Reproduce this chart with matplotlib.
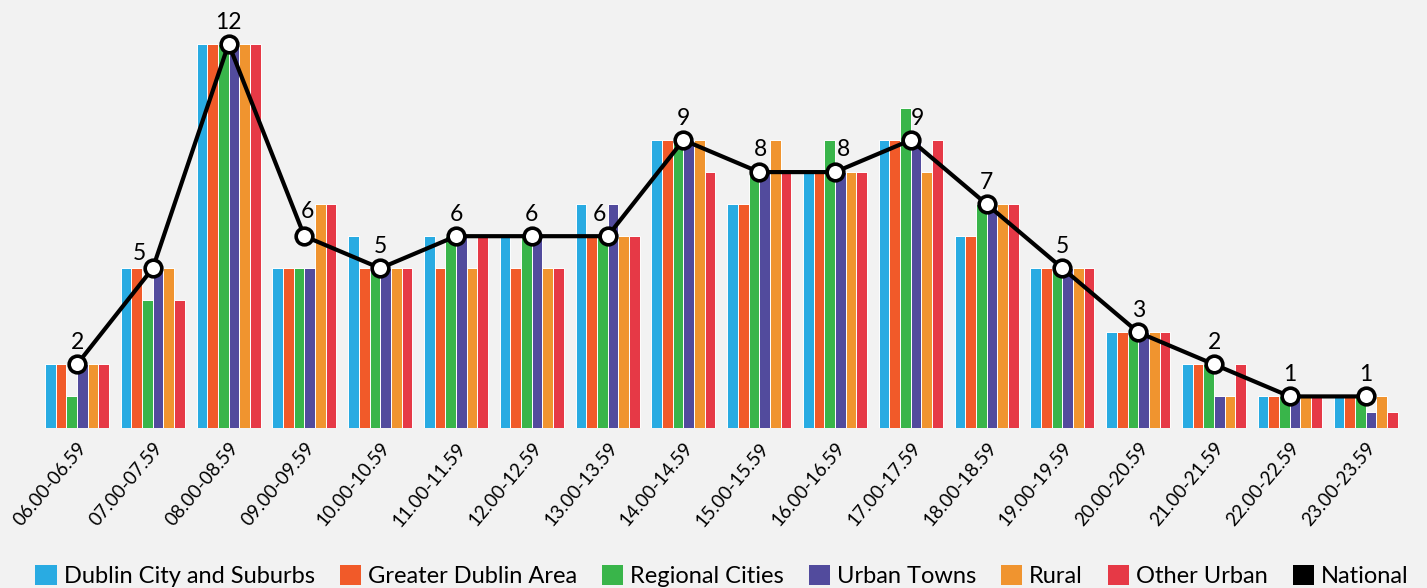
import matplotlib
matplotlib.use("Agg")
from matplotlib import pyplot as plt
from matplotlib.patches import Patch
import numpy as np

# time bands
time_bands = [
    '06.00-06.59', '07.00-07.59', '08.00-08.59', '09.00-09.59', '10.00-10.59',
    '11.00-11.59', '12.00-12.59', '13.00-13.59', '14.00-14.59', '15.00-15.59',
    '16.00-16.59', '17.00-17.59', '18.00-18.59', '19.00-19.59', '20.00-20.59',
    '21.00-21.59', '22.00-22.59', '23.00-23.59',
]

dublin_city = [2, 5, 12, 5, 6, 6, 6, 7, 9, 7, 8, 9, 6, 5, 3, 2, 1, 1]
greater_dublin = [2, 5, 12, 5, 5, 5, 5, 6, 9, 7, 8, 9, 6, 5, 3, 2, 1, 1]
regional_cities = [1, 4, 12, 5, 5, 6, 6, 6, 9, 8, 9, 10, 7, 5, 3, 2, 1, 1]
urban_towns = [2, 5, 12, 5, 5, 6, 6, 7, 9, 8, 8, 9, 7, 5, 3, 1, 1, 0.5]
rural = [2, 5, 12, 7, 5, 5, 5, 6, 9, 9, 8, 8, 7, 5, 3, 1, 1, 1]
other_urban = [2, 4, 12, 7, 5, 6, 5, 6, 8, 8, 8, 9, 7, 5, 3, 2, 1, 0.5]
national = [2, 5, 12, 6, 5, 6, 6, 6, 9, 8, 8, 9, 7, 5, 3, 2, 1, 1]

series_names = ['Dublin City and Suburbs', 'Greater Dublin Area', 'Regional Cities',
                'Urban Towns', 'Rural', 'Other Urban']
series_values = [dublin_city, greater_dublin, regional_cities, urban_towns, rural, other_urban]
colors = ['#29abe2', '#f15a29', '#39b54a', '#524b9d', '#f0942f', '#e63946']

# small nudges (points) of the value labels so they sit clear of the line
label_dx = [0, -10, 0, 2, 0, 0, 0, -6, 0, 1, 6, 5, 0, 0, 0, 0, 0, 0]
label_dy = [0, -5, 0, 2, 0, 0, 0, 0, 0, 1, 1, 0, 0, 0, 0, 0, 0, 0]

bg = '#f2f2f2'
plt.rcParams['font.family'] = ['Lato', 'DejaVu Sans']

fig = plt.figure(figsize=(14.27, 5.88), dpi=100, facecolor=bg)
ax = fig.add_axes([0, 0.2713, 1, 0.7287])
ax.set_facecolor(bg)

x = np.arange(len(time_bands))
bar_w = 0.1407
for i, (name, vals) in enumerate(zip(series_names, series_values)):
    ax.bar(x + (i - 2.5) * bar_w, vals, width=bar_w, color=colors[i],
           edgecolor='white', linewidth=0.7, zorder=2)

ax.plot(x, national, color='black', lw=3, zorder=3,
        marker='o', markersize=12, markerfacecolor='white',
        markeredgecolor='black', markeredgewidth=2.6)

# value labels above the national line
for xi, v, dx, dy in zip(x, national, label_dx, label_dy):
    ax.annotate(f'{v}', (xi, v), xytext=(dx, 8 + dy), textcoords='offset points',
                ha='center', va='bottom', fontsize=16.5, color='black', zorder=4)

ax.set_xlim(-1.016, 17.81)
ax.set_ylim(0, 13.37)
for s in ax.spines.values():
    s.set_visible(False)
ax.set_yticks([])
ax.set_xticks(x)
ax.set_xticklabels(time_bands, rotation=50, ha='right', rotation_mode='anchor',
                   fontsize=13.5, color='black')
ax.tick_params(axis='x', length=0, pad=8)

handles = [Patch(facecolor=c, edgecolor='none') for c in colors]
handles.append(Patch(facecolor='black', edgecolor='none'))
labels = series_names + ['National']
fig.legend(handles, labels, loc='center', bbox_to_anchor=(0.506, 1 - 576 / 588),
           ncol=7, frameon=False, fontsize=17, handlelength=0.9, handleheight=0.95,
           handletextpad=0.3, columnspacing=1.05, borderpad=0, labelcolor='black')

plt.savefig('out.png', dpi=100, facecolor=bg)
